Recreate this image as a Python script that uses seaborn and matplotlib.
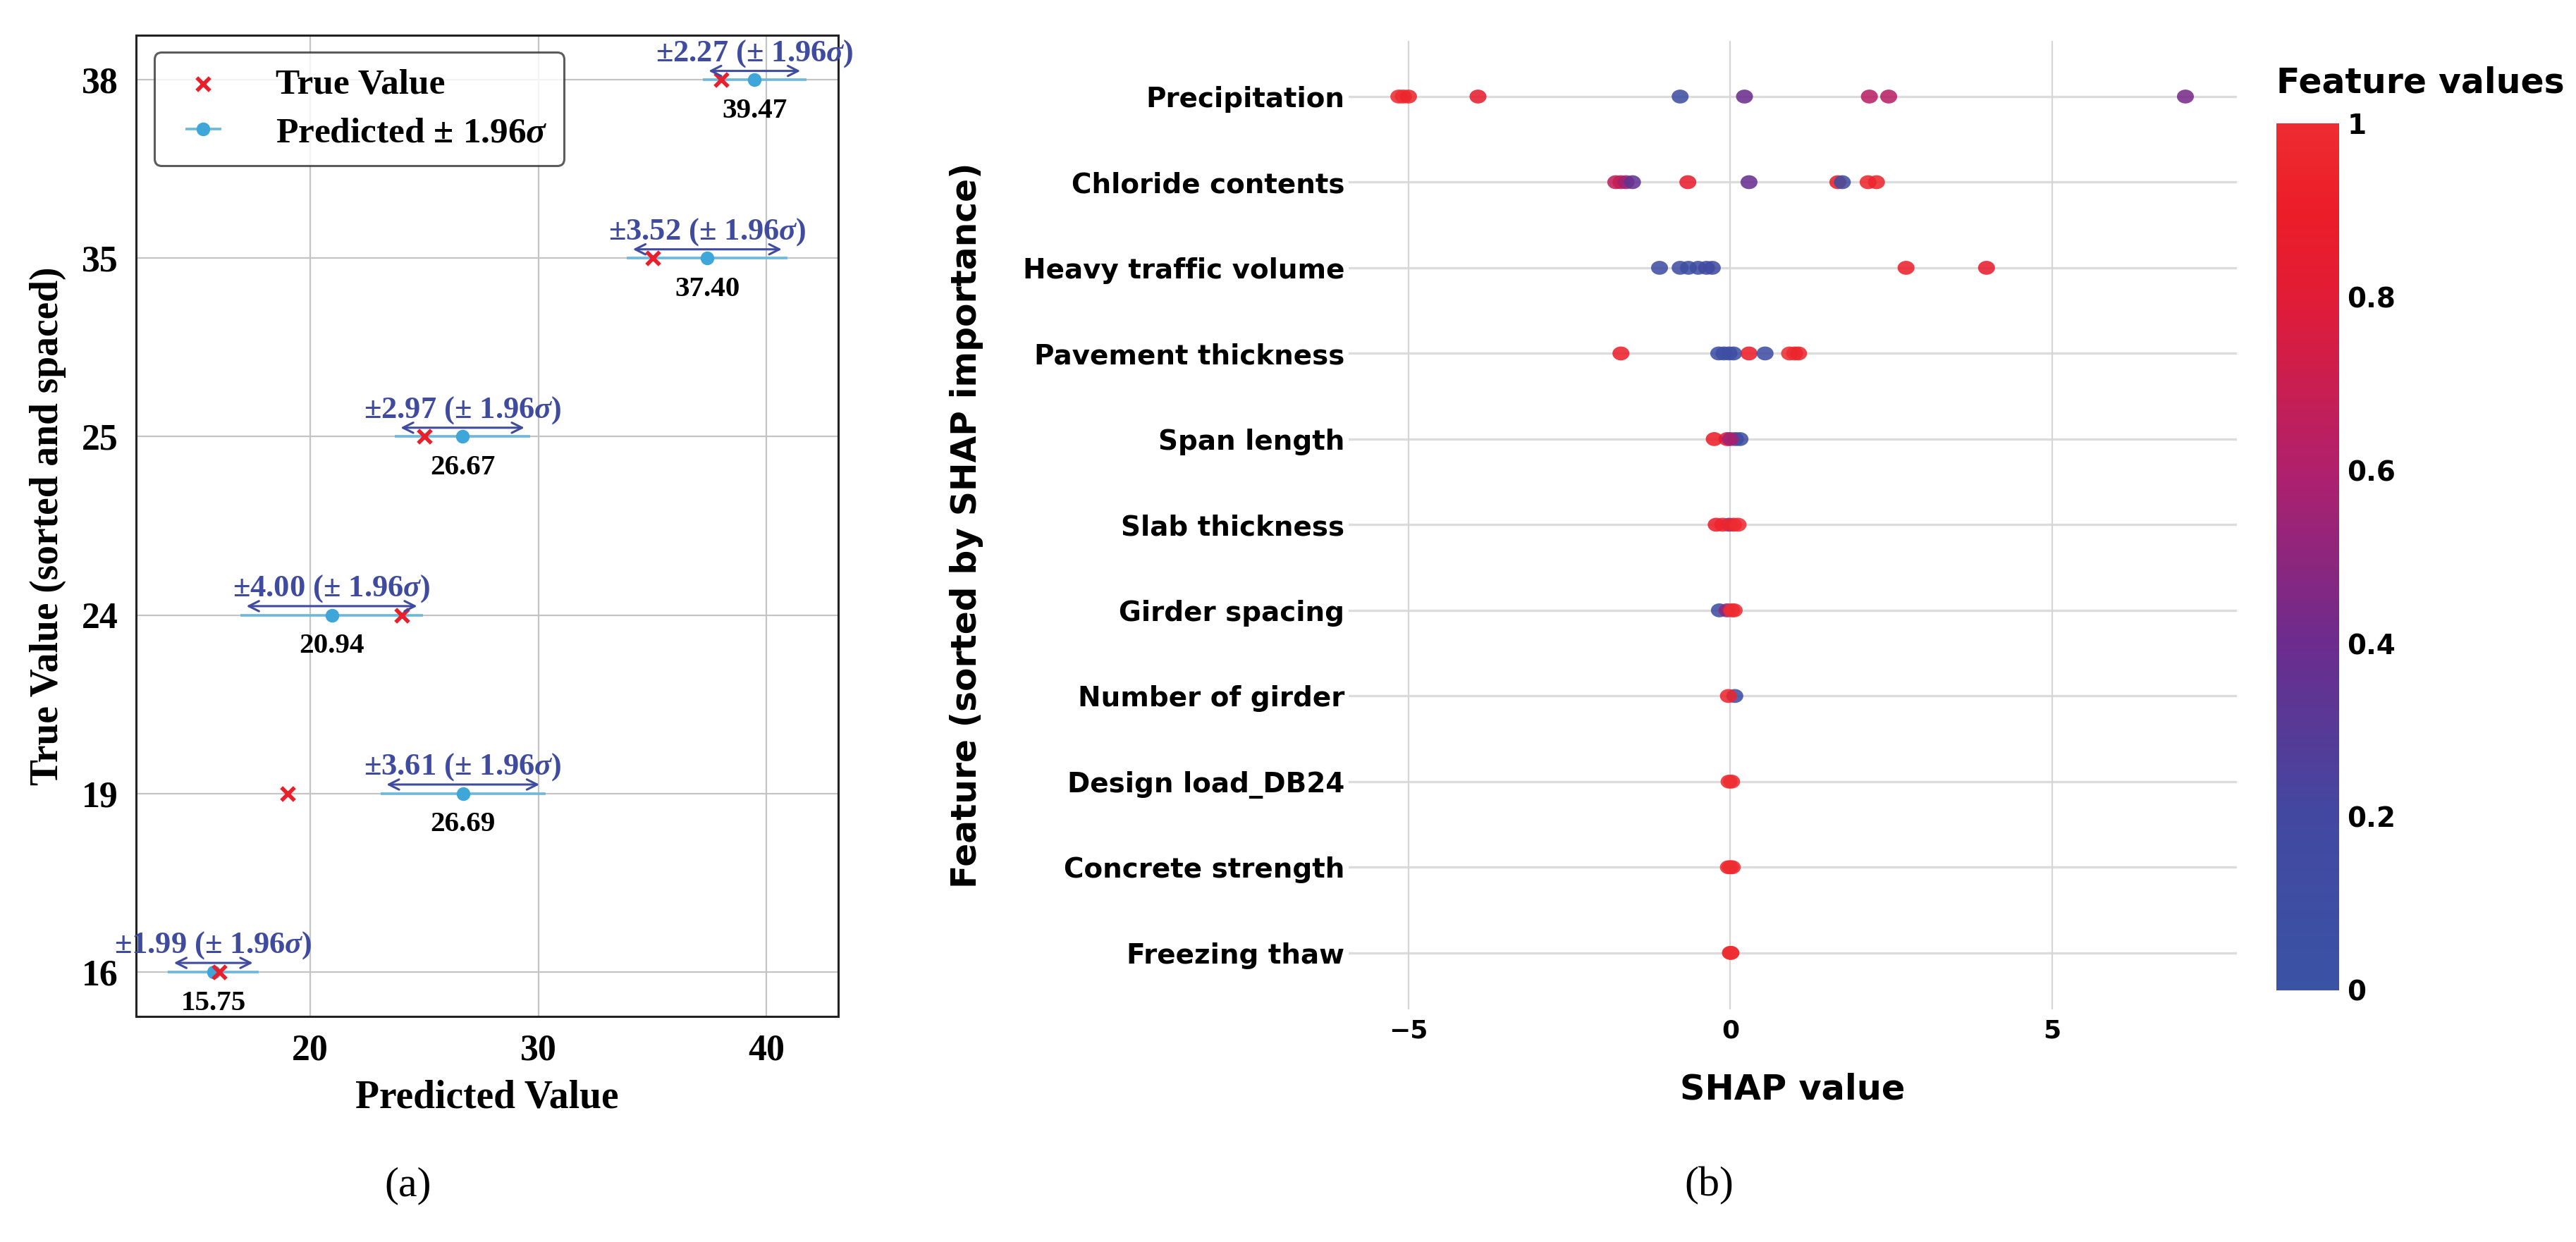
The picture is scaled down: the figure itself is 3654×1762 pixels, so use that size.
import numpy as np
import pandas as pd
import matplotlib
matplotlib.use("Agg")
import matplotlib.pyplot as plt
import seaborn as sns
from matplotlib.colors import LinearSegmentedColormap, Normalize
from matplotlib.cm import ScalarMappable
from matplotlib.path import Path
from matplotlib.markers import MarkerStyle
from matplotlib.transforms import Affine2D

# ---- (a) prediction with 1.96 sigma intervals ----
true_vals = [16, 19, 24, 25, 35, 38]
pred_vals = [15.75, 26.69, 20.94, 26.67, 37.40, 39.47]
half_width = [1.99, 3.61, 4.00, 2.97, 3.52, 2.27]

# ---- (b) SHAP summary (one list pair per feature row, top to bottom) ----
features = ["Precipitation", "Chloride contents", "Heavy traffic volume",
            "Pavement thickness", "Span length", "Slab thickness",
            "Girder spacing", "Number of girder", "Design load_DB24",
            "Concrete strength", "Freezing thaw"]

shap_precip = [-5.15, -5.08, -5.00, -3.92, -0.78, 0.22, 2.16, 2.46, 7.07]
fval_precip = [1.0, 1.0, 0.95, 0.85, 0.1, 0.4, 0.63, 0.63, 0.43]
shap_chloride = [-1.78, -1.70, -1.62, -1.52, -0.66, 0.29, 1.67, 1.74, 2.14, 2.27]
fval_chloride = [0.65, 0.7, 0.55, 0.35, 0.85, 0.38, 0.9, 0.1, 0.95, 0.95]
shap_traffic = [-1.10, -0.78, -0.65, -0.50, -0.37, -0.28, 2.73, 3.98]
fval_traffic = [0.12, 0.1, 0.1, 0.1, 0.15, 0.15, 0.92, 0.85]
shap_pavement = [-1.70, -0.18, -0.10, -0.02, 0.05, 0.29, 0.54, 0.92, 1.00, 1.06]
fval_pavement = [0.92, 0.1, 0.1, 0.1, 0.1, 0.9, 0.12, 1.0, 1.0, 0.95]
shap_span = [0.08, 0.15, -0.25, -0.05, 0.0]
fval_span = [0.15, 0.1, 0.9, 0.8, 0.55]
shap_slab = [-0.02, -0.22, -0.12, 0.05, 0.12]
fval_slab = [0.45, 0.9, 0.95, 0.95, 1.0]
shap_girder = [-0.17, -0.05, 0.02, 0.06]
fval_girder = [0.1, 0.5, 1.0, 1.0]
shap_number = [0.07, -0.03]
fval_number = [0.1, 0.95]
shap_design = [-0.02, 0.02]
fval_design = [1.0, 1.0]
shap_concrete = [-0.03, 0.0, 0.03]
fval_concrete = [1.0, 1.0, 1.0]
shap_freezing = [0.0, 0.01]
fval_freezing = [1.0, 1.0]

row_shap = [shap_precip, shap_chloride, shap_traffic, shap_pavement, shap_span,
            shap_slab, shap_girder, shap_number, shap_design, shap_concrete,
            shap_freezing]
row_fval = [fval_precip, fval_chloride, fval_traffic, fval_pavement, fval_span,
            fval_slab, fval_girder, fval_number, fval_design, fval_concrete,
            fval_freezing]

shap_df = pd.concat(
    [pd.DataFrame({"shap": s, "fval": f, "row": i})
     for i, (s, f) in enumerate(zip(row_shap, row_fval))],
    ignore_index=True)

sns.set_style("white")
plt.rcParams["text.color"] = "black"
plt.rcParams["axes.labelcolor"] = "black"
plt.rcParams["xtick.color"] = "black"
plt.rcParams["ytick.color"] = "black"
plt.rcParams["mathtext.fontset"] = "custom"
plt.rcParams["mathtext.rm"] = "Liberation Serif:weight=bold"
plt.rcParams["mathtext.it"] = "Liberation Serif:style=italic:weight=bold"
plt.rcParams["mathtext.bf"] = "Liberation Serif:weight=bold"

W, H, DPI = 3655, 1762, 200
fig = plt.figure(figsize=(W / DPI, H / DPI), dpi=DPI)
fig.patch.set_facecolor("white")

serif_b = dict(family="Liberation Serif", weight="bold")
sans_b = dict(family="DejaVu Sans", weight="bold")

# ================= panel (a) =================
ax1 = fig.add_axes([193 / W, 1 - 1442 / H, (1189 - 193) / W, (1442 - 50) / H])
pos = np.arange(len(true_vals))

ax1.errorbar(pred_vals, pos, xerr=half_width, fmt="o", color="#3ea6d8",
             ecolor="#6bb8dc", elinewidth=1.3, markersize=6, capsize=0,
             label=r"Predicted ± 1.96$\sigma$", zorder=3)
sns.scatterplot(x=true_vals, y=pos, marker="x", color="#e8202c", s=45,
                linewidth=2.0, label="True Value", ax=ax1, zorder=4)

arrow_c = "#3f4b9f"
for p, y, h in zip(pred_vals, pos, half_width):
    ax1.annotate("", xy=(p + h, y + 0.05), xytext=(p - h, y + 0.05),
                 arrowprops=dict(arrowstyle="<->", color=arrow_c, lw=1.1,
                                 mutation_scale=13, shrinkA=3, shrinkB=3),
                 annotation_clip=False, zorder=5)
    ax1.text(p, y + 0.148, f"±{h:.2f} (± 1.96$\\sigma$)", color=arrow_c,
             fontsize=16, ha="center", va="center", clip_on=False, **serif_b)
    ax1.text(p, y - 0.175, f"{p:.2f}", color="black", fontsize=14.8,
             ha="center", va="center", **serif_b)

ax1.set_yticks(pos)
ax1.set_yticklabels([str(v) for v in true_vals])
ax1.set_xticks([20, 30, 40])
for lab in ax1.get_xticklabels() + ax1.get_yticklabels():
    lab.set_fontfamily("Liberation Serif")
    lab.set_fontweight("bold")
    lab.set_fontsize(18.7)
ax1.tick_params(axis="both", length=4, width=1, pad=5, color="#333333")
ax1.grid(True, color="#c4c4c4", lw=0.8)
ax1.set_axisbelow(True)
for sp in ax1.spines.values():
    sp.set_visible(True)
    sp.set_color("#222222")
    sp.set_linewidth(1.1)
ax1.set_xlabel("Predicted Value", fontsize=20, labelpad=6, **serif_b)
ax1.set_ylabel("True Value (sorted and spaced)", fontsize=20, labelpad=8, **serif_b)

handles, labels = ax1.get_legend_handles_labels()
order = [labels.index("True Value"), 1 - labels.index("True Value")]
leg = ax1.legend([handles[i] for i in order], [labels[i] for i in order],
                 loc="upper left", bbox_to_anchor=(0.026, 0.983),
                 borderaxespad=0, frameon=True, fancybox=True,
                 prop=dict(family="Liberation Serif", weight="bold", size=18.5),
                 handlelength=1.8, handletextpad=1.1, borderpad=0.45,
                 labelspacing=0.42)
leg.get_frame().set_edgecolor("#333333")
leg.get_frame().set_linewidth(1.1)

# ================= panel (b) =================
ax2 = fig.add_axes([1913 / W, 1 - 1432 / H, (3173 - 1913) / W, (1432 - 58) / H])
nodes = [(0.0, "#3a53a4"), (0.2, "#4248a0"), (0.4, "#6c2c8e"),
         (0.6, "#b0206c"), (0.8, "#e21c36"), (0.9, "#eb1d28"), (1.0, "#ee2c31")]
cmap = LinearSegmentedColormap.from_list("fv", nodes)

for i in range(len(features)):
    ax2.axhline(i, color="#dcdcdc", lw=1.2, zorder=0)
for xv in [-5, 0, 5]:
    ax2.axvline(xv, color="#d6d6d6", lw=0.8, zorder=0)

ell = MarkerStyle(Path.unit_circle().transformed(Affine2D().scale(1.22, 1.0)))
sns.scatterplot(data=shap_df, x="shap", y="row", hue="fval", palette=cmap,
                hue_norm=(0, 1), marker=ell, s=75, linewidth=0, alpha=0.87,
                legend=False, ax=ax2, zorder=3)

ax2.set_xlim(-5.93, 7.87)
ax2.set_ylim(len(features) - 1 + 0.66, -0.65)
ax2.set_yticks(range(len(features)))
ax2.set_yticklabels(features)
ax2.set_xticks([-5, 0, 5])
for lab in ax2.get_yticklabels():
    lab.set_fontfamily("DejaVu Sans")
    lab.set_fontweight("bold")
    lab.set_fontsize(14)
for lab in ax2.get_xticklabels():
    lab.set_fontfamily("DejaVu Sans")
    lab.set_fontweight("bold")
    lab.set_fontsize(13)
ax2.tick_params(axis="y", length=0, pad=2)
ax2.tick_params(axis="x", length=0, pad=5)
for sp in ax2.spines.values():
    sp.set_visible(False)
ax2.set_xlabel("SHAP value", fontsize=17.8, labelpad=15, **sans_b)
ax2.set_ylabel("Feature (sorted by SHAP importance)", fontsize=17.5,
               labelpad=20, **sans_b)

cax = fig.add_axes([3229 / W, 1 - 1405 / H, (3318 - 3229) / W, (1405 - 175) / H])
cb = fig.colorbar(ScalarMappable(norm=Normalize(0, 1), cmap=cmap), cax=cax)
cb.outline.set_visible(False)
cb.set_ticks([0, 0.2, 0.4, 0.6, 0.8, 1])
cb.set_ticklabels(["0", "0.2", "0.4", "0.6", "0.8", "1"])
cax.tick_params(length=0, pad=4)
for lab in cax.get_yticklabels():
    lab.set_fontfamily("DejaVu Sans")
    lab.set_fontweight("bold")
    lab.set_fontsize(14)
fig.text(3229 / W, 1 - 118 / H, "Feature values", ha="left", va="center",
         fontsize=17.6, **sans_b)

fig.text(579 / W, 1 - 1682 / H, "(a)", ha="center", va="center",
         fontsize=21.6, family="Liberation Serif")
fig.text(2424 / W, 1 - 1682 / H, "(b)", ha="center", va="center",
         fontsize=21.6, family="Liberation Serif")

fig.savefig("out.png", dpi=DPI, facecolor="white")
